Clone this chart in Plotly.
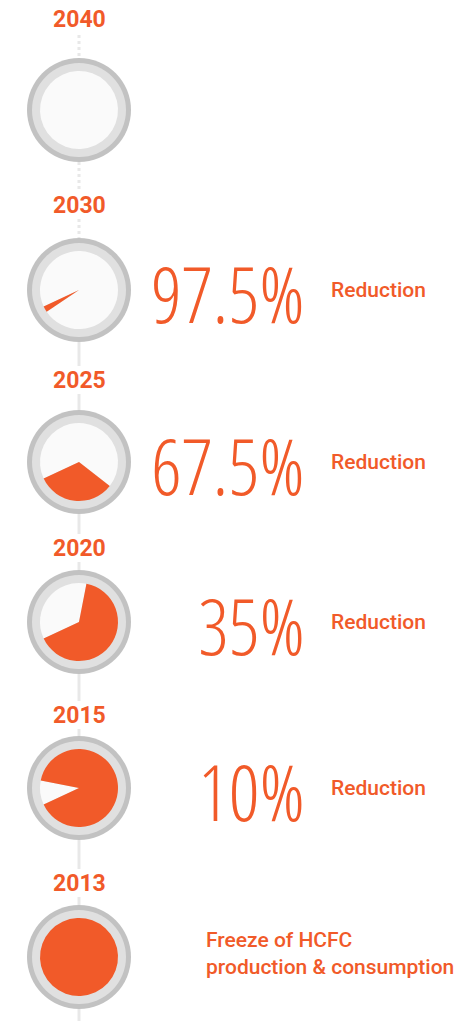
import plotly.graph_objects as go

W, H = 466, 1021
ORANGE = "#F15A29"

years = ["2040", "2030", "2025", "2020", "2015", "2013"]
reduction_pct = [100, 97.5, 67.5, 35, 10, 0]
remaining_pct = [0, 2.5, 32.5, 65, 90, 100]
big_labels = ["", "97.5%", "67.5%", "35%", "10%", ""]
side_labels = ["", "Reduction", "Reduction", "Reduction", "Reduction",
               "Freeze of HCFC<br>production & consumption"]

CX = 79
centers_y = [110, 290, 462, 622, 788, 957]
year_y = [19, 205, 380, 548, 715, 883]
R_OUT, R_MID, R_IN = 52, 47, 39

fig = go.Figure()
fig.add_trace(go.Scatter(x=[0, W], y=[0, H], mode="markers",
                         marker=dict(opacity=0), hoverinfo="skip", showlegend=False))

shapes = []
for i, cy in enumerate(centers_y):
    y0 = year_y[i] + 14 if i > 0 else year_y[i] + 16
    y1 = cy - R_OUT
    dash = "dot" if i <= 1 else "solid"
    shapes.append(dict(type="line", xref="x", yref="y", x0=CX, x1=CX, y0=y0, y1=y1,
                       line=dict(color="#e8e8e8", width=3, dash=dash), layer="below"))
    y0 = cy + R_OUT
    y1 = (year_y[i + 1] - 14) if i + 1 < len(year_y) else H
    dash = "dot" if i == 0 else "solid"
    shapes.append(dict(type="line", xref="x", yref="y", x0=CX, x1=CX, y0=y0, y1=y1,
                       line=dict(color="#e8e8e8", width=3, dash=dash), layer="below"))

for cy in centers_y:
    shapes.append(dict(type="circle", xref="x", yref="y", x0=CX - R_OUT, x1=CX + R_OUT,
                       y0=cy - R_OUT, y1=cy + R_OUT, fillcolor="#c2c2c2",
                       line=dict(width=0), layer="below"))
    shapes.append(dict(type="circle", xref="x", yref="y", x0=CX - R_MID, x1=CX + R_MID,
                       y0=cy - R_MID, y1=cy + R_MID, fillcolor="#e0e0e0",
                       line=dict(width=0), layer="below"))

for i, cy in enumerate(centers_y):
    fig.add_trace(go.Pie(
        values=[reduction_pct[i], remaining_pct[i]],
        labels=["Reduction", "Remaining"],
        marker=dict(colors=["#fafafa", ORANGE], line=dict(width=0)),
        sort=False, direction="counterclockwise", rotation=245,
        textinfo="none", hoverinfo="label+percent", showlegend=False,
        domain=dict(x=[(CX - R_IN) / W, (CX + R_IN) / W],
                    y=[1 - (cy + R_IN) / H, 1 - (cy - R_IN) / H]),
    ))

annotations = []
for i, yr in enumerate(years):
    annotations.append(dict(x=CX, y=year_y[i], xref="x", yref="y", text=yr, showarrow=False,
                            font=dict(family="Roboto", size=23, color=ORANGE, weight=700),
                            xanchor="center", yanchor="middle"))

for i, lab in enumerate(big_labels):
    if lab:
        annotations.append(dict(x=307, y=centers_y[i] + 3, xref="x", yref="y", text=lab,
                                showarrow=False,
                                font=dict(family="Open Sans Condensed Light, Roboto Condensed, Roboto",
                                          size=77, color=ORANGE, weight=300),
                                xanchor="right", yanchor="middle"))
for i, lab in enumerate(side_labels):
    if not lab:
        continue
    if i == len(side_labels) - 1:
        annotations.append(dict(x=204, y=953, xref="x", yref="y", text=lab,
                                showarrow=False, align="left",
                                font=dict(family="Roboto", size=21, color=ORANGE, weight=500),
                                xanchor="left", yanchor="middle"))
    else:
        annotations.append(dict(x=329, y=centers_y[i], xref="x", yref="y", text=lab,
                                showarrow=False,
                                font=dict(family="Roboto", size=21, color=ORANGE, weight=500),
                                xanchor="left", yanchor="middle"))

fig.update_layout(
    width=W, height=H, margin=dict(l=0, r=0, t=0, b=0),
    paper_bgcolor="white", plot_bgcolor="white",
    xaxis=dict(range=[0, W], visible=False, fixedrange=True),
    yaxis=dict(range=[H, 0], visible=False, fixedrange=True),
    shapes=shapes, annotations=annotations, showlegend=False,
)
fig.write_html("out.html", config={"displayModeBar": False},
               post_script="document.body.style.margin='0';")
